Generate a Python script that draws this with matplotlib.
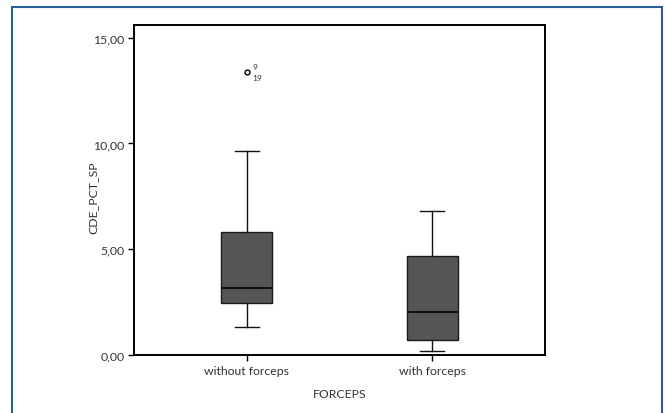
import matplotlib
matplotlib.use("Agg")
import matplotlib.pyplot as plt
from matplotlib.patches import Rectangle
from matplotlib.ticker import FuncFormatter

plt.rcParams['font.family'] = ['Lato', 'DejaVu Sans']

groups = ['without forceps', 'with forceps']
whislo = [1.31, 0.19]
q1 = [2.45, 0.72]
med = [3.17, 2.03]
q3 = [5.83, 4.70]
whishi = [9.66, 6.80]
fliers = [[13.37], []]
flier_ids = ['9', '19']

stats = []
for i, g in enumerate(groups):
    stats.append(dict(label=g, whislo=whislo[i], q1=q1[i], med=med[i],
                      q3=q3[i], whishi=whishi[i], fliers=fliers[i]))

fig = plt.figure(figsize=(6.65, 4.14), dpi=100)
ax = fig.add_axes([134 / 665, 1 - 356 / 414, 411 / 665, 330 / 414])

ax.bxp(stats, positions=[1, 2], widths=0.276, patch_artist=True,
       boxprops=dict(facecolor='#555555', edgecolor='#1a1a1a', linewidth=1.0),
       medianprops=dict(color='#111111', linewidth=1.5),
       whiskerprops=dict(color='#111111', linewidth=1.0),
       capprops=dict(color='#111111', linewidth=1.0),
       capwidths=0.13,
       flierprops=dict(marker='o', markersize=3.5, markerfacecolor='white',
                       markeredgecolor='black', markeredgewidth=1.0))

# case numbers beside the outlier
ax.annotate(flier_ids[0], (1, fliers[0][0]), xytext=(4, 1.5), textcoords='offset points',
            fontsize=6, color='#333333', ha='left', va='bottom')
ax.annotate(flier_ids[1], (1, fliers[0][0]), xytext=(4, -1.5), textcoords='offset points',
            fontsize=6, color='#333333', ha='left', va='top')

ax.set_xlim(0.39, 2.61)
ax.set_ylim(0, 15.6)
ax.set_yticks([0, 5, 10, 15])
ax.yaxis.set_major_formatter(FuncFormatter(lambda v, p: f"{v:.2f}".replace('.', ',')))
ax.set_xticks([1, 2])
ax.set_xticklabels(groups)
ax.tick_params(axis='both', labelsize=8.8, labelcolor='#333333', length=4, width=1.0,
               direction='out', color='black', pad=3)
for s in ax.spines.values():
    s.set_linewidth(1.4)
    s.set_color('black')

ax.set_xlabel('FORCEPS', fontsize=8.8, color='#333333')
ax.set_ylabel('CDE_PCT_SP', fontsize=8.8, color='#333333')
ax.xaxis.set_label_coords(0.5, -(395 - 356) / 330)
ax.yaxis.set_label_coords((93 - 134) / 411, (356 - 198) / 330)
ax.xaxis.label.set_va('center')
ax.yaxis.label.set_va('center')

# blue frame around the figure
fig.patches.append(Rectangle((11.5 / 665, -0.05), (662 - 11.5) / 665, 1.05 - 8 / 414,
                             transform=fig.transFigure, fill=False,
                             edgecolor='#2b5d97', linewidth=1.5))

fig.savefig('out.png', dpi=100)
